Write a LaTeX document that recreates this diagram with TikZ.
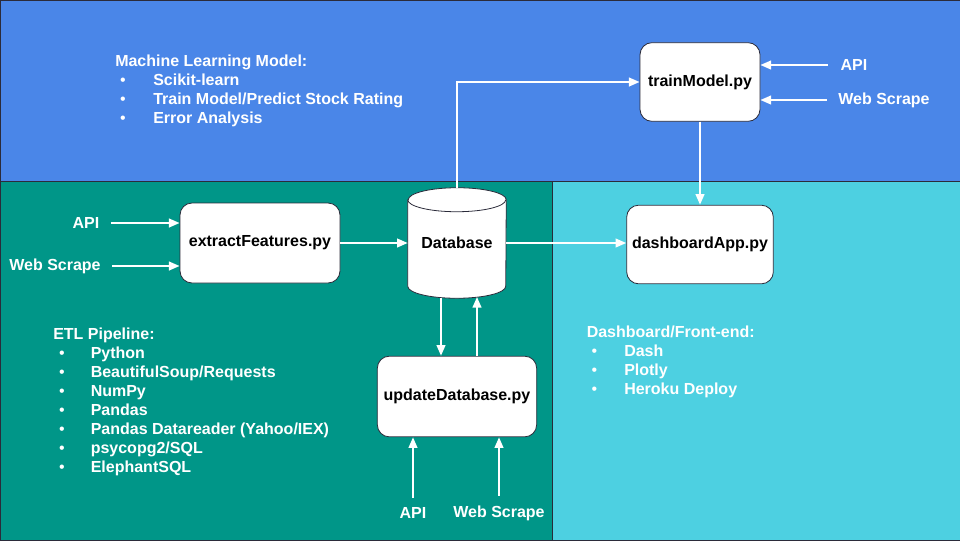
\documentclass[12pt,tikz,border=0pt]{standalone}
\usepackage{fontspec}
\setmainfont{Liberation Sans}
\usepackage{xcolor}
\usetikzlibrary{arrows.meta}
\usetikzlibrary{positioning, shapes.geometric}

\definecolor{mlblue}{HTML}{4A86E8}
\definecolor{etlteal}{HTML}{009688}
\definecolor{dashcyan}{HTML}{4DD0E1}
\definecolor{edgegray}{HTML}{2B2B3A}

\tikzset{
  script/.style={draw=edgegray, fill=white, rounded corners=9pt, font=\bfseries, line width=0.6pt},
  src/.style={text=white, font=\bfseries, inner sep=0pt},
  flow/.style={white, line width=1.5pt, -{Triangle[length=8pt,width=6.5pt]}},
  listline/.style={text=white, font=\bfseries, anchor=base west, inner sep=0pt},
  dot/.style={text=white, anchor=base, inner sep=0pt},
  drum/.style={draw=edgegray, fill=white, line width=0.6pt},
}

\begin{document}
\begin{tikzpicture}[x=0.75pt, y=-0.75pt]
  \useasboundingbox (0,0) rectangle (960,540);
  % the three areas
  \draw[fill=mlblue, draw=edgegray, line width=0.6pt] (0,0) rectangle (960,181);
  \draw[fill=etlteal, draw=edgegray, line width=0.6pt] (0,181) rectangle (552,540);
  \draw[fill=dashcyan, draw=edgegray, line width=0.6pt] (552,181) rectangle (960,540);

  % scripts
  \node[script, minimum width=90pt, minimum height=59pt] (train) at (700,82) {trainModel.py};
  \node[script, minimum width=120pt, minimum height=60pt] (extract) at (260,243) {extractFeatures.py};
  \node[script, minimum width=109.5pt, minimum height=59pt] (dash) at (700,244.5) {dashboardApp.py};
  \node[script, minimum width=119.5pt, minimum height=60.5pt] (update) at (457,396.5) {updateDatabase.py};

  % database drum
  \node[minimum width=73.5pt, minimum height=82.5pt, inner sep=0pt, font=\bfseries] (db) at (457,243) {};
  \draw[drum] ([yshift=-9pt]db.north west) -- ([yshift=9pt]db.south west)
    arc[start angle=180, end angle=360, x radius=36.75pt, y radius=9pt]
    -- ([yshift=-9pt]db.north east)
    arc[start angle=0, end angle=180, x radius=36.75pt, y radius=9pt] -- cycle;
  \draw[drum, fill=none] ([yshift=-9pt]db.north west)
    arc[start angle=180, end angle=360, x radius=36.75pt, y radius=9pt];
  \node[font=\bfseries, inner sep=0pt] (dbText) at (db) {Database};

  % data sources
  \node[src] (exApi) at (86,223) {API};
  \node[src] (exWeb) at (55,266) {Web Scrape};
  \node[src] (trApi) at (854,65) {API};
  \node[src] (trWeb) at (884,100) {Web Scrape};
  \node[src] (upApi) at (413,513) {API};
  \node[src] (upWeb) at (499,513) {Web Scrape};

  % connectors
  \draw[flow, shorten <=8.5pt] (exApi.east) -- (exApi.east -| extract.west);
  \draw[flow, shorten <=8.5pt] (exWeb.east) -- (exWeb.east -| extract.west);
  \draw[flow, shorten <=9.5pt] (trApi.west) -- (trApi.west -| train.east);
  \draw[flow, shorten <=8.5pt] (trWeb.west) -- (trWeb.west -| train.east);
  \draw[flow, shorten <=7pt] (upApi.north) -- (upApi.north |- update.south);
  \draw[flow, shorten <=7pt] (upWeb.north) -- (upWeb.north |- update.south);
  \draw[flow] (extract.east) -- (extract.east -| db.west);
  \draw[flow] (db.east) -- (db.east -| dash.west);
  \draw[flow] (db.north) |- (train.west);
  \draw[flow] (train.south) -- (dash.north);
  \draw[flow] ([xshift=-12pt,yshift=0.5pt]db.south) -- ([xshift=-12pt]db.south |- update.north);
  \draw[flow] ([xshift=15pt]db.south |- update.north) -- ([xshift=15pt,yshift=1pt]db.south);

  % tool lists
  \node[listline] (mlHead) at (115,66) {Machine Learning Model:};
  \foreach \entry [count=\i] in {Scikit-learn, Train Model/Predict Stock Rating, Error Analysis} {
    \node[dot] (mlDot\i) at (123,66+19*\i) {\textbullet};
    \node[listline] (mlItem\i) at (153,66+19*\i) {\entry};
  }
  \node[listline] (etlHead) at (53,339) {ETL Pipeline:};
  \foreach \entry [count=\i] in {Python, BeautifulSoup/Requests, NumPy, Pandas,
      Pandas Datareader (Yahoo/IEX), psycopg2/SQL, ElephantSQL} {
    \node[dot] (etlDot\i) at (62,339+19*\i) {\textbullet};
    \node[listline] (etlItem\i) at (90.5,339+19*\i) {\entry};
  }
  \node[listline] (dashHead) at (586.5,337) {Dashboard/Front-end:};
  \foreach \entry [count=\i] in {Dash, Plotly, Heroku Deploy} {
    \node[dot] (dashDot\i) at (594.5,337+19*\i) {\textbullet};
    \node[listline] (dashItem\i) at (624,337+19*\i) {\entry};
  }
\end{tikzpicture}
\end{document}
